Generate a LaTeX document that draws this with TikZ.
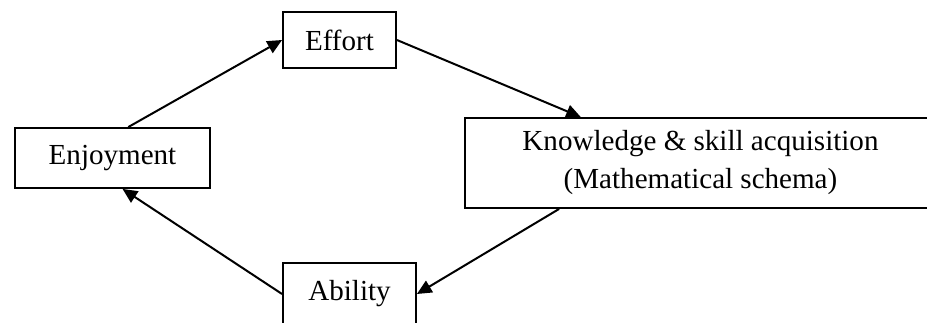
\documentclass[tikz,border=0pt]{standalone}
\usepackage{fontspec}
\setmainfont{Liberation Serif}
\usepackage{tikz}
\usetikzlibrary{arrows.meta,positioning}

\begin{document}
\begin{tikzpicture}[>={Triangle[length=11pt,width=10pt]}, x=0.75pt, y=-0.75pt,
  box/.style={draw, line width=1.4pt, inner sep=0pt, align=center,
    font=\fontsize{21.8}{28.5}\selectfont},
  link/.style={->, line width=1.5pt}]
\useasboundingbox (0,0) rectangle (927,322);
\clip (0,0) rectangle (927,322);
\node[box, minimum width=113*0.75pt, minimum height=56*0.75pt] (effort) at (339.5,40) {Effort};
\node[box, minimum width=195*0.75pt, minimum height=60*0.75pt] (enjoy) at (112.5,158) {Enjoyment};
\node[box, minimum width=133*0.75pt, minimum height=62*0.75pt] (ability) at (349.5,294) {Ability};
\node[box, minimum width=471*0.75pt, minimum height=90*0.75pt] (know) at (700.5,163)
  {Knowledge \& skill acquisition\\(Mathematical schema)};
% cycle
\draw[link] (enjoy.63) -- (effort.west);
\draw[link] (effort.east) -- (know.159);
\draw[link] (know.198) -- (ability.east);
\draw[link] (ability.west) -- (enjoy.-72);
\end{tikzpicture}
\end{document}
